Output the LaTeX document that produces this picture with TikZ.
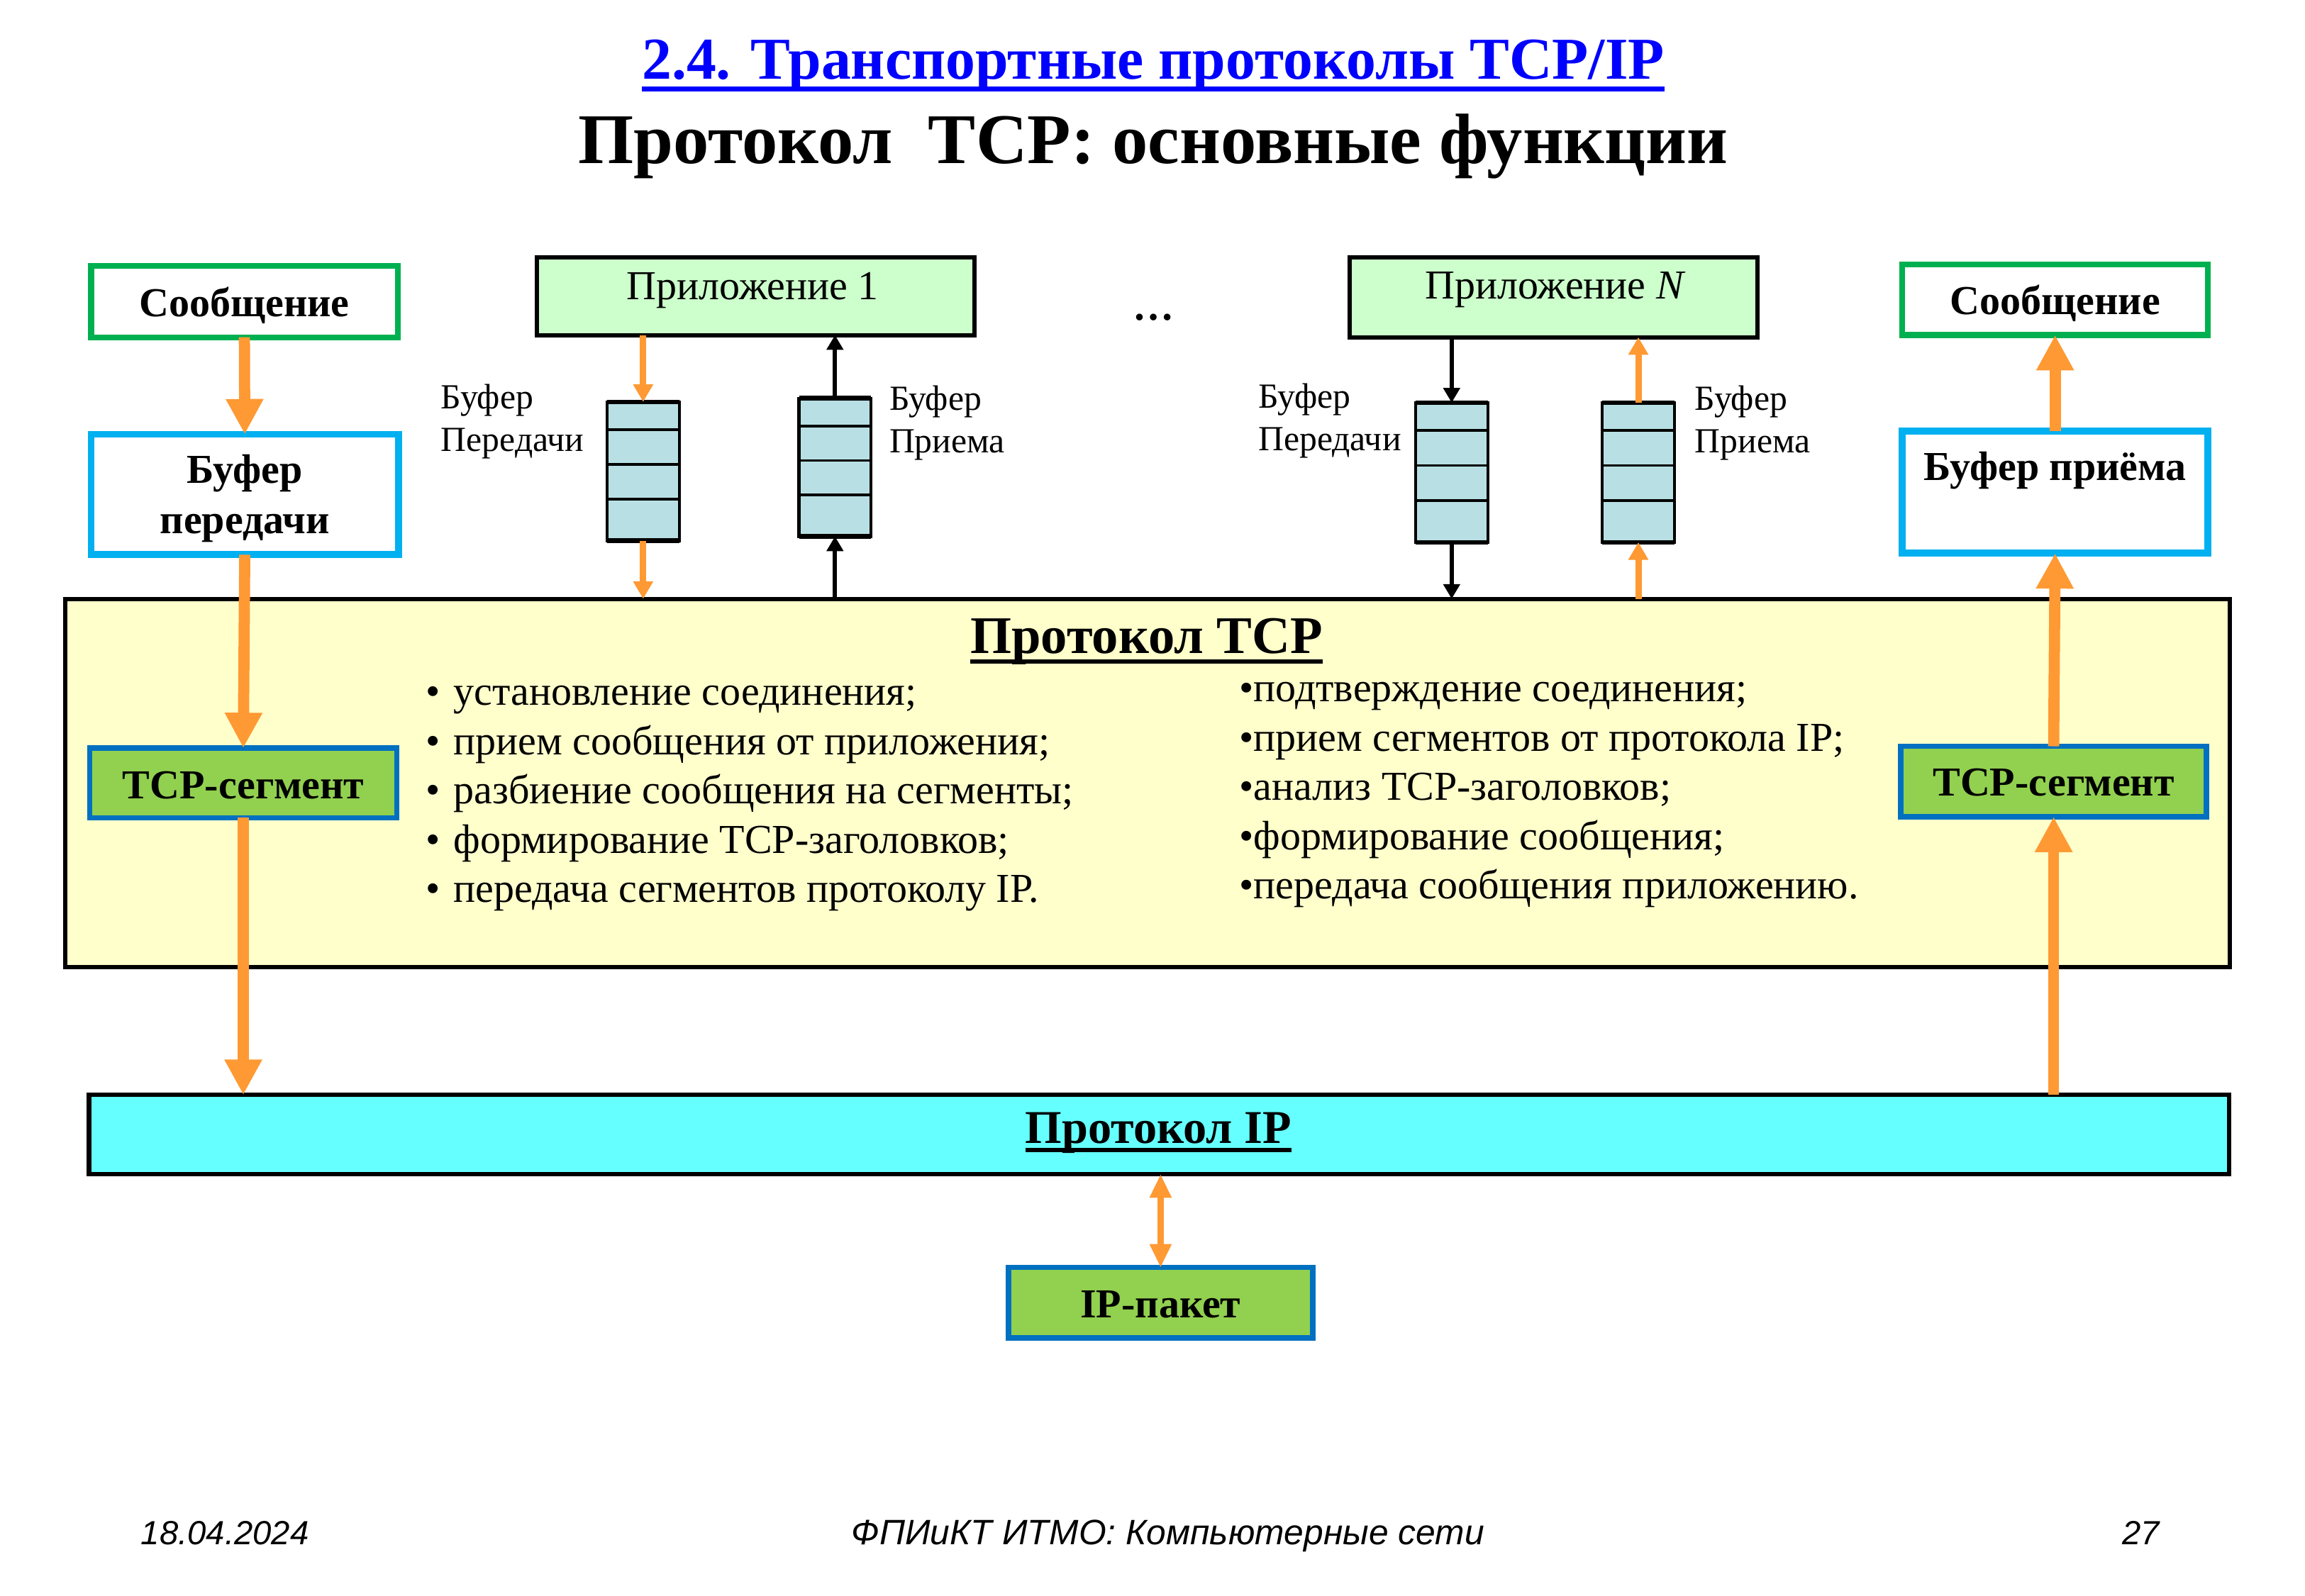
\documentclass[tikz,border=0pt]{standalone}
\usepackage{fontspec}
\setmainfont{Liberation Serif}
\newfontfamily\footerfont{Liberation Sans}
\usetikzlibrary{arrows.meta,calc}

\definecolor{titleblue}{HTML}{0000FF}
\definecolor{msggreen}{HTML}{00B050}
\definecolor{bufblue}{HTML}{00B0F0}
\definecolor{appgreen}{HTML}{CCFFCC}
\definecolor{tcpfill}{HTML}{FFFFCC}
\definecolor{seggreen}{HTML}{92D050}
\definecolor{segblue}{HTML}{0070C0}
\definecolor{ipcyan}{HTML}{66FFFF}
\definecolor{arroworange}{HTML}{FF9933}
\definecolor{queuefill}{HTML}{B8E0E4}

\begin{document}
\begin{tikzpicture}[x=0.5pt,y=-0.5pt,
  every node/.style={inner sep=0pt, outer sep=0pt},
  boxtext/.style={font=\bfseries\fontsize{14}{17}\selectfont, anchor=base},
  apptext/.style={font=\fontsize{14}{17}\selectfont, anchor=base},
  smalltext/.style={font=\fontsize{12}{14}\selectfont, anchor=base west},
  listtext/.style={font=\fontsize{14}{17}\selectfont, anchor=base west},
  footertext/.style={font=\footerfont\itshape\fontsize{11.4}{13}\selectfont, anchor=base},
  msgbox/.style={draw=msggreen, line width=2pt, fill=white},
  bufbox/.style={draw=bufblue, line width=2.4pt, fill=white},
  appbox/.style={draw=black, line width=1.45pt, fill=appgreen},
  segbox/.style={draw=segblue, line width=1.8pt, fill=seggreen},
  layerbox/.style={draw=black, line width=1.5pt},
  queuebox/.style={draw=black, line width=1pt, fill=queuefill, minimum width=24.5pt},
  bigarrow/.style={draw=arroworange, line width=3.8pt, -{Triangle[length=12pt,width=12pt]}},
  thinorange/.style={draw=arroworange, line width=2.2pt, -{Triangle[length=6pt,width=6.5pt]}},
  thinblack/.style={draw=black, line width=1.5pt, -{Triangle[length=5pt,width=5.5pt]}},
  dblarrow/.style={draw=arroworange, line width=2.2pt, {Triangle[length=8pt,width=7pt]}-{Triangle[length=8pt,width=7pt]}}
]
\useasboundingbox (0,0) rectangle (1568,1086);

% headings
\node[font=\bfseries\fontsize{20.2}{24}\selectfont, text=titleblue, anchor=base] (title) at (784.5,54) {2.4. Транспортные протоколы TCP/IP};
\draw[titleblue, line width=1.7pt] ([yshift=-3.25pt]title.base west) -- ([yshift=-3.25pt]title.base east);
\node[font=\bfseries\fontsize{24.25}{28}\selectfont, anchor=base] (subtitle) at (784.5,111) {Протокол \ TCP: основные функции};

% transport layer block
\node[layerbox, fill=tcpfill, minimum width=736.4pt, minimum height=125.25pt] (tcp) at (780.6,532.75) {};
\node[font=\bfseries\fontsize{18}{21}\selectfont, anchor=base] (tcphead) at (780,444.6) {Протокол TCP};
\draw[line width=1.4pt] ([yshift=-2.7pt]tcphead.base west) -- ([yshift=-2.7pt]tcphead.base east);

\foreach \t [count=\i] in {установление соединения;, прием сообщения от приложения;, разбиение сообщения на сегменты;, формирование TCP-заголовков;, передача сегментов протоколу IP.}
  \node[listtext] (send\i) at (308.5,{480+33.5*(\i-1)}) {\llap{•\hspace{4.5pt}}\t};
\foreach \t [count=\i] in {подтверждение соединения;, прием сегментов от протокола IP;, анализ TCP-заголовков;, формирование сообщения;, передача сообщения приложению.}
  \node[listtext] (recv\i) at (843,{477.5+33.5*(\i-1)}) {•\t};

% network layer block
\node[layerbox, fill=ipcyan, minimum width=728pt, minimum height=27pt] (ip) at (788.5,772) {};
\node[font=\bfseries\fontsize{16}{19}\selectfont, anchor=base] (iphead) at (788,778) {Протокол IP};
\draw[line width=1.5pt] ([yshift=-2.25pt]iphead.base west) -- ([yshift=-2.25pt]iphead.base east);

% sender side
\node[msgbox, minimum width=104.25pt, minimum height=24.25pt] (msgL) at (166.25,205.25) {};
\node[boxtext] (msgLt) at (166.25,215.6) {Сообщение};
\node[bufbox, minimum width=104.5pt, minimum height=41pt] (bufL) at (166.5,336.5) {};
\node[boxtext] (bufLa) at (166.5,329) {Буфер};
\node[boxtext] (bufLb) at (166.5,363) {передачи};
\node[segbox, minimum width=104.5pt, minimum height=23.75pt] (segL) at (165.5,532.75) {};
\node[boxtext] (segLt) at (165.5,543.5) {TCP-сегмент};

% receiver side
\node[msgbox, minimum width=104pt, minimum height=24pt] (msgR) at (1398,204) {};
\node[boxtext] (msgRt) at (1398,214) {Сообщение};
\node[bufbox, minimum width=104pt, minimum height=41.5pt] (bufR) at (1398,335) {};
\node[boxtext] (bufRt) at (1398,327) {Буфер приёма};
\node[segbox, minimum width=104pt, minimum height=24pt] (segR) at (1397,531.8) {};
\node[boxtext] (segRt) at (1397,541.7) {TCP-сегмент};

% packet
\node[segbox, minimum width=103.5pt, minimum height=24pt] (pkt) at (789.5,886.5) {};
\node[boxtext] (pktt) at (789.5,896.5) {IP-пакет};

% applications
\node[appbox, minimum width=149pt, minimum height=26.5pt] (app1) at (514,201.5) {};
\node[apptext] (app1t) at (512,204) {Приложение 1};
\node[appbox, minimum width=138.75pt, minimum height=27.25pt] (appN) at (1056.7,202.2) {};
\node[apptext] (appNt) at (1058,203.5) {Приложение \textit{N}};
\node[font=\bfseries\fontsize{14}{17}\selectfont, anchor=base] (dots) at (784.5,218) {…};

% socket buffers
\node[queuebox, minimum height=47.25pt] (qs1) at (437.5,320.75) {};
\node[queuebox, minimum height=47pt] (qr1) at (568,318) {};
\node[queuebox, minimum height=47.5pt] (qs2) at (987.5,321.5) {};
\node[queuebox, minimum height=47.5pt] (qr2) at (1114.5,321.5) {};
\foreach \q in {qs1,qr1,qs2,qr2}{
  \foreach \f in {0.2,0.45,0.7}
    \draw[line width=0.9pt] ($(\q.north west)!\f!(\q.south west)$) -- ($(\q.north east)!\f!(\q.south east)$);
  \draw[line width=1.6pt] (\q.north west) -- (\q.north east);
  \draw[line width=1.6pt] (\q.south west) -- (\q.south east);
}
\node[smalltext] (ls1a) at (300,278) {Буфер};
\node[smalltext] (ls1b) at (300,307) {Передачи};
\node[smalltext] (lr1a) at (605,279) {Буфер};
\node[smalltext] (lr1b) at (605,308) {Приема};
\node[smalltext] (ls2a) at (856,277.5) {Буфер};
\node[smalltext] (ls2b) at (856,306.5) {Передачи};
\node[smalltext] (lr2a) at (1153,279) {Буфер};
\node[smalltext] (lr2b) at (1153,308) {Приема};

% application <-> buffer <-> TCP
\draw[thinorange] (app1.south -| qs1) -- (qs1.north);
\draw[thinorange] (qs1.south) -- (tcp.north -| qs1);
\draw[thinblack] (tcp.north -| qr1) -- (qr1.south);
\draw[thinblack] (qr1.north) -- (app1.south -| qr1);
\draw[thinblack] (appN.south -| qs2) -- (qs2.north);
\draw[thinblack] (qs2.south) -- (tcp.north -| qs2);
\draw[thinorange] (tcp.north -| qr2) -- (qr2.south);
\draw[thinorange] (qr2.north) -- (appN.south -| qr2);

% data path, sending
\draw[bigarrow] (msgL.south) -- (bufL.north);
\draw[bigarrow] (bufL.south) -- (segL.north);
\draw[bigarrow] (segL.south) -- (ip.north -| segL);
% data path, receiving
\draw[bigarrow] (ip.north -| segR) -- (segR.south);
\draw[bigarrow] (segR.north) -- (bufR.south);
\draw[bigarrow] (bufR.north) -- (msgR.south);
% IP <-> packet
\draw[dblarrow] (ip.south -| pkt) -- (pkt.north);

% footer
\node[footertext, anchor=base west] (date) at (96,1051) {18.04.2024};
\node[footertext, font=\footerfont\itshape\fontsize{12}{14}\selectfont] (course) at (794.5,1051) {ФПИиКТ ИТМО: Компьютерные сети};
\node[footertext, anchor=base east] (page) at (1469,1051) {27};
\end{tikzpicture}
\end{document}
